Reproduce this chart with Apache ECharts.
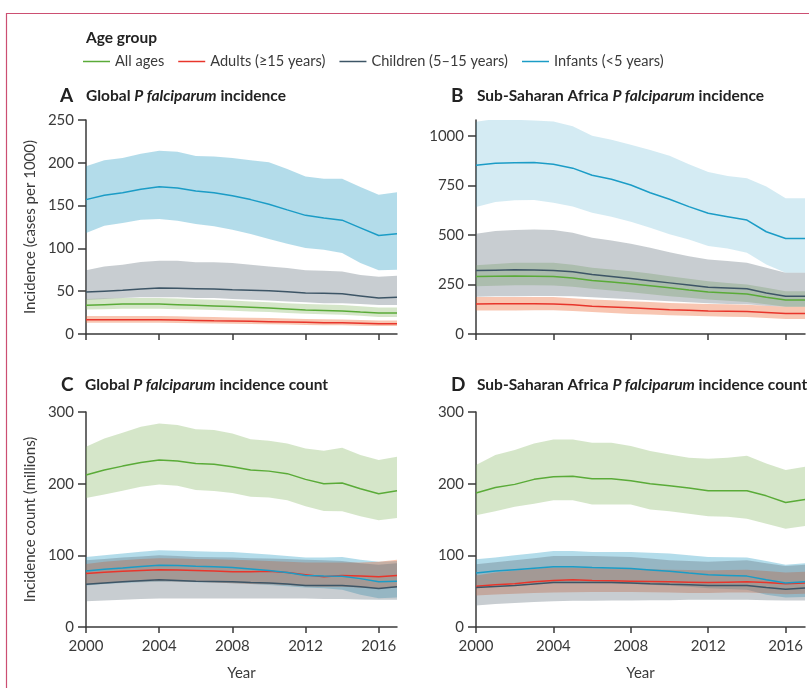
<!DOCTYPE html>
<html>
<head>
<meta charset="utf-8">
<script src="https://cdn.jsdelivr.net/npm/echarts@6/dist/echarts.min.js"></script>
<style>
  html, body { margin: 0; padding: 0; background: #fff; }
  #chart { width: 809px; height: 688px; }
</style>
</head>
<body>
<div id="chart"></div>
<script>
// Years on the x axis
var years = ['2000','2001','2002','2003','2004','2005','2006','2007','2008','2009','2010','2011','2012','2013','2014','2015','2016','2017'];

// Age groups
var groupNames = ['All ages', 'Adults (\u226515 years)', 'Children (5\u201315 years)', 'Infants (<5 years)'];

// A: Global incidence (cases per 1000)
var allA        = [33.5,34.3,35,35,35,34.3,33.5,32.8,32,31.2,30.4,29.2,28,27.5,27,25.7,24.5,24.5];
var allAUp      = [41,41.5,42,42,42,41.5,40.5,40,39,38,37,36,35,34.5,34,32.5,31,31];
var allALo      = [28.5,29,29.5,29.5,29.5,29,28.5,28,27.2,26.4,25.6,24.6,23.6,23,22.5,21.2,20,20];
var adultsA     = [16.7,16.7,16.7,16.7,16.7,16.3,15.9,15.5,15.2,14.8,14.4,14,13.6,13.2,13,12.5,12,12];
var adultsAUp   = [21,21,21,21,21,20.6,20.2,19.8,19.4,19,18.6,18.2,17.6,17.2,17,16.4,15.8,15.8];
var adultsALo   = [13,13.1,13.2,13.2,13.2,12.9,12.6,12.3,12,11.7,11.4,11,10.6,10.3,10.1,9.7,9.3,9.3];
var childrenA   = [49,50,51,52.5,53.7,53.5,53,52.5,51.8,51.2,50.6,49.3,48,47.5,47,44.5,42,43];
var childrenAUp = [74.4,79,81,84,85.7,85.7,83.7,83.7,83,81,79,77,74.4,74,73,69,67,68];
var childrenALo = [40,41,42,43,43,43,42,42,41,40,39,38,37,36,36,35,34,34];
var infantsA    = [157,162,165,169,172,170.5,167,165,161.6,157,151.5,145,138.6,135.5,133,124,115,117];
var infantsAUp  = [196,203,205.6,210.7,214,213,208,207.5,205.6,203,200.5,192.8,184,181.5,181.5,171.7,162.8,165.5];
var infantsALo  = [118,126.6,129.7,133.6,134.3,132.4,128.5,125.8,121.9,116.8,111,105.5,100.5,98.5,94.6,83,74.4,75];

// B: Sub-Saharan Africa incidence (cases per 1000)
var allB        = [290,292,293,292,290,283,270,262,253,243,233,222,212,207,202,186,172,172];
var allBUp      = [347,353,359,359,359,350,334,326,317,305,292,279,266,258,250,233,216,216];
var allBLo      = [241,244,246,246,245,238,228,220,211,201,191,183,174,168,162,150,137,137];
var adultsB     = [152,153,153,153,152,147,140,136,132,128,123,120,116,115,113,108,103,103];
var adultsBUp   = [187,187,187,187,187,181,174,170,165,161,157,154,152,150,148,143,137,137];
var adultsBLo   = [118,119,119,120,120,116,111,106,101,98,95,92,89,87,86,81,76,76];
var childrenB   = [320,322,324,323,320,314,300,290,280,269,258,247,236,232,228,207,191,191];
var childrenBUp = [506,520,525,528,525,511,486,472,455,435,413,393,376,368,359,334,309,309];
var childrenBLo = [188,190,191,192,192,190,185,180,175,170,165,160,155,152,150,143,137,137];
var infantsB    = [852,862,864,865,857,837,801,781,752,713,680,643,609,592,575,516,482,482];
var infantsBUp  = [1071,1085,1081,1078,1073,1048,1000,980,955,928,899,857,818,798,786,744,685,685];
var infantsBLo  = [641,666,675,676,663,643,612,592,567,536,503,477,444,432,410,351,309,309];

// C: Global incidence count (millions)
var allC        = [212,219,224.5,229.6,233,231.5,228,227,223.6,219,217.5,214,206,200,201,193,186,190];
var allCUp      = [251.5,263,271,279.5,284,282,276,275,270,262,260,256,249,246,250,240,233,237.5];
var allCLo      = [180,185,190,195.6,199,197,191,189.6,187,181.6,180.7,177,168.6,162,161.6,154.6,149,152];
var adultsC     = [74.5,76.5,77.8,79,80,79.5,79,78,77,77,77.8,76,73,70,72,71,70,72];
var adultsCUp   = [88,91,93,95,96,95.5,95,94.5,94,93,92,91,90,90,90,90,91,94];
var adultsCLo   = [60,61.5,62.5,63.5,64,63.5,63,62,61,60,59.5,58.5,57,56,56,55,54,55];
var childrenC   = [59.6,61.5,63,64.5,66,65,64,63.5,63,62,61.5,60,58,58,58,56,53.6,56];
var childrenCUp = [93,95,97,98.5,100,99,97.8,97.5,97,96,95.5,95,94,93,92,89,87,89];
var childrenCLo = [36,37,38,39,39.6,39.6,39.6,39.6,39.6,39.6,39.6,39.6,39.6,39,39,38.5,38,38];
var infantsC    = [78,80.5,82.4,84.5,86,85.7,84.8,84,83,81,79,76,72,71,70.8,67.5,63,64];
var infantsCUp  = [97.8,100,102.5,105,107,106.5,105.7,105,104.8,103,101,99,97,97,97.8,94,91,92];
var infantsCLo  = [58,60,61.5,62.5,63,63,62.5,62,61,60,58.5,57,55,54,52,45,40,41];

// D: Sub-Saharan Africa incidence count (millions)
var allD        = [187,194.7,199,206,209.6,210.5,207,206.8,204,200,197,193.8,190,190,190,183,173.7,178];
var allDUp      = [226,240,247,256,261.8,261.8,257,257,252.4,245.5,240.8,236,234.7,236,239,228,219,223.6];
var allDLo      = [156,161.6,167.7,172,177,177,171,171,171,164,161.6,158,154.6,153.7,151,144,137,141];
var adultsD     = [57,59,60.5,63,65,66,65,64.5,64,63.5,63,62.5,62,62.5,63,62,60.5,61.5];
var adultsDUp   = [72,76,79,81,83,83,82,81.5,81,80.5,80,79.5,79,79.5,80,78,76,77];
var adultsDLo   = [44,45.5,46.5,47.5,48,48.5,49,49,49,48.5,48,47.5,47.5,48,48,47,45.6,46.5];
var childrenD   = [55,56.5,58,60,62,62,62,62,61.5,60.5,59.6,59,58,58,58,55,52.6,54.5];
var childrenDUp = [87.6,90.5,93,96,99,99,99,98.5,97.8,95.5,93,92,91,92,93,89,85,87];
var childrenDLo = [30,32,33.5,35,36,36.5,36.5,37,37,37.5,37.5,38,38,38,38,37.5,37,37];
var infantsD    = [75.5,78,80,82,84,84,83,82.3,81.5,79.7,77.8,75.3,73,72,71,66,61.5,63];
var infantsDUp  = [94.5,97,100,103,106,106,104.8,104.8,104.8,103.5,102.5,100,97.8,97.5,97,92,87,89];
var infantsDLo  = [57,59,60.5,61.5,62,62,61.5,61,60,59,57.5,56,54,53,52,45,41,42];

// Y axis tick labels per panel
var ticksA = [0, 50, 100, 150, 200, 250];
var ticksB = [0, 250, 500, 750, 1000];
var ticksCount = [0, 100, 200, 300];

var FONT = 'Lato';
var TEXT = '#3a3a3a';
var AXIS = '#3a3a3a';

var lineColors = {
  all: '#5aab38',
  adults: '#e8352b',
  children: '#3d5566',
  infants: '#1b9cc6'
};
var bandColors = {
  all: 'rgb(135,184,101)',
  adults: 'rgb(235,92,35)',
  children: 'rgb(98,112,124)',
  infants: 'rgb(38,155,195)'
};

var panels = [
  { grid: { left: 86, top: 120, width: 311, height: 214 }, max: 250, ticks: ticksA, labels: false,
    name: 'Incidence (cases per 1000)', infantsAlpha: 0.35,
    d: { all: [allA, allAUp, allALo], adults: [adultsA, adultsAUp, adultsALo], children: [childrenA, childrenAUp, childrenALo], infants: [infantsA, infantsAUp, infantsALo] } },
  { grid: { left: 476, top: 120, width: 329, height: 214 }, max: 1080, ticks: ticksB, labels: false,
    name: '', infantsAlpha: 0.2,
    d: { all: [allB, allBUp, allBLo], adults: [adultsB, adultsBUp, adultsBLo], children: [childrenB, childrenBUp, childrenBLo], infants: [infantsB, infantsBUp, infantsBLo] } },
  { grid: { left: 86, top: 412, width: 311, height: 215 }, max: 300, ticks: ticksCount, labels: true,
    name: 'Incidence count (millions)', infantsAlpha: 0.35,
    d: { all: [allC, allCUp, allCLo], adults: [adultsC, adultsCUp, adultsCLo], children: [childrenC, childrenCUp, childrenCLo], infants: [infantsC, infantsCUp, infantsCLo] } },
  { grid: { left: 476, top: 412, width: 329, height: 215 }, max: 300, ticks: ticksCount, labels: true,
    name: '', infantsAlpha: 0.35,
    d: { all: [allD, allDUp, allDLo], adults: [adultsD, adultsDUp, adultsDLo], children: [childrenD, childrenDUp, childrenDLo], infants: [infantsD, infantsDUp, infantsDLo] } }
];

var keys = ['all', 'adults', 'children', 'infants'];
var bandOrder = ['all', 'infants', 'adults', 'children'];
var lineOrder = ['all', 'adults', 'children', 'infants'];

var grids = [], xAxes = [], yAxes = [], series = [];

panels.forEach(function (p, i) {
  grids.push(Object.assign({ containLabel: false }, p.grid));
  xAxes.push({
    type: 'category', gridIndex: i, data: years, boundaryGap: false,
    name: p.labels ? 'Year' : '', nameLocation: 'middle', nameGap: 39,
    nameTextStyle: { fontFamily: FONT, fontSize: 15, color: TEXT },
    axisLine: { lineStyle: { color: AXIS, width: 1.5 } },
    axisTick: { show: true, length: 6, lineStyle: { color: AXIS, width: 1.5 },
      interval: function (idx) { return idx % 4 === 0; } },
    axisLabel: { show: p.labels, margin: 12, fontFamily: FONT, fontSize: 15, color: TEXT,
      interval: function (idx) { return idx % 4 === 0; } },
    splitLine: { show: false }
  });
  yAxes.push({
    type: 'value', gridIndex: i, min: 0, max: p.max,
    name: p.name, nameLocation: 'middle', nameRotate: 90, nameGap: 48,
    nameTextStyle: { fontFamily: FONT, fontSize: 15, color: TEXT },
    axisLine: { show: true, lineStyle: { color: AXIS, width: 1.5 } },
    axisTick: { show: true, length: 8, lineStyle: { color: AXIS, width: 1.5 }, customValues: p.ticks },
    axisLabel: { margin: 12, fontFamily: FONT, fontSize: 15, color: TEXT, customValues: p.ticks,
      formatter: function (v) { return String(v); } },
    splitLine: { show: false }
  });

  // Uncertainty bands: transparent lower bound + stacked width
  bandOrder.forEach(function (k) {
    var v = p.d[k];
    var lo = v[2], up = v[1];
    var alpha = k === 'infants' ? p.infantsAlpha : 0.35;
    var stackId = 'band-' + i + '-' + k;
    series.push({
      type: 'line', name: k + ' lower ' + i, xAxisIndex: i, yAxisIndex: i,
      data: lo, stack: stackId, symbol: 'none', silent: true,
      lineStyle: { width: 0, opacity: 0 }
    });
    series.push({
      type: 'line', name: k + ' range ' + i, xAxisIndex: i, yAxisIndex: i,
      data: up.map(function (u, j) { return +(u - lo[j]).toFixed(2); }),
      stack: stackId, symbol: 'none', silent: true,
      lineStyle: { width: 0, opacity: 0 },
      areaStyle: { color: bandColors[k], opacity: alpha }
    });
  });

  // Central estimates
  lineOrder.forEach(function (k) {
    series.push({
      type: 'line', name: groupNames[keys.indexOf(k)], xAxisIndex: i, yAxisIndex: i,
      data: p.d[k][0], symbol: 'none', z: 5,
      lineStyle: { color: lineColors[k], width: 1.5 },
      itemStyle: { color: lineColors[k] }
    });
  });
});

var titleRich = {
  b: { fontFamily: FONT, fontSize: 15.5, fontWeight: 'bold', color: '#222' },
  i: { fontFamily: FONT, fontSize: 15.5, fontWeight: 'bold', fontStyle: 'italic', color: '#222' }
};
function panelTitle(letter, lx, tx, y, pre, post) {
  return [
    { text: letter, left: lx, top: y - 2, textStyle: { fontFamily: FONT, fontSize: 19, fontWeight: 'bold', color: '#222' }, padding: 0 },
    { text: '{b|' + pre + '}{i|P falciparum}{b|' + post + '}', left: tx, top: y, padding: 0, textStyle: { rich: titleRich } }
  ];
}

var titles = [
  { text: 'Age group', left: 86, top: 30, padding: 0, textStyle: { fontFamily: FONT, fontSize: 15.5, fontWeight: 'bold', color: '#222' } }
].concat(
  panelTitle('A', 60, 86, 88, 'Global ', ' incidence'),
  panelTitle('B', 451, 477, 88, 'Sub-Saharan Africa ', ' incidence'),
  panelTitle('C', 61, 85, 377, 'Global ', ' incidence count'),
  panelTitle('D', 451, 477, 377, 'Sub-Saharan Africa ', ' incidence count')
);

var chart = echarts.init(document.getElementById('chart'), null, { renderer: 'canvas' });
chart.setOption({
  animation: false,
  backgroundColor: '#fff',
  title: titles,
  legend: {
    data: groupNames, left: 83, top: 54, padding: 0,
    icon: 'rect', itemWidth: 27, itemHeight: 1.5, itemGap: 14,
    textStyle: { fontFamily: FONT, fontSize: 14.6, color: TEXT, padding: [0, 0, 0, 0] },
    selectedMode: false
  },
  graphic: [
    { type: 'polyline', silent: true, shape: { points: [[6.5, 688], [6.5, 13.5], [809, 13.5]] },
      style: { stroke: '#cc4f72', lineWidth: 1.2, fill: null } }
  ],
  grid: grids,
  xAxis: xAxes,
  yAxis: yAxes,
  series: series
});
</script>
</body>
</html>
